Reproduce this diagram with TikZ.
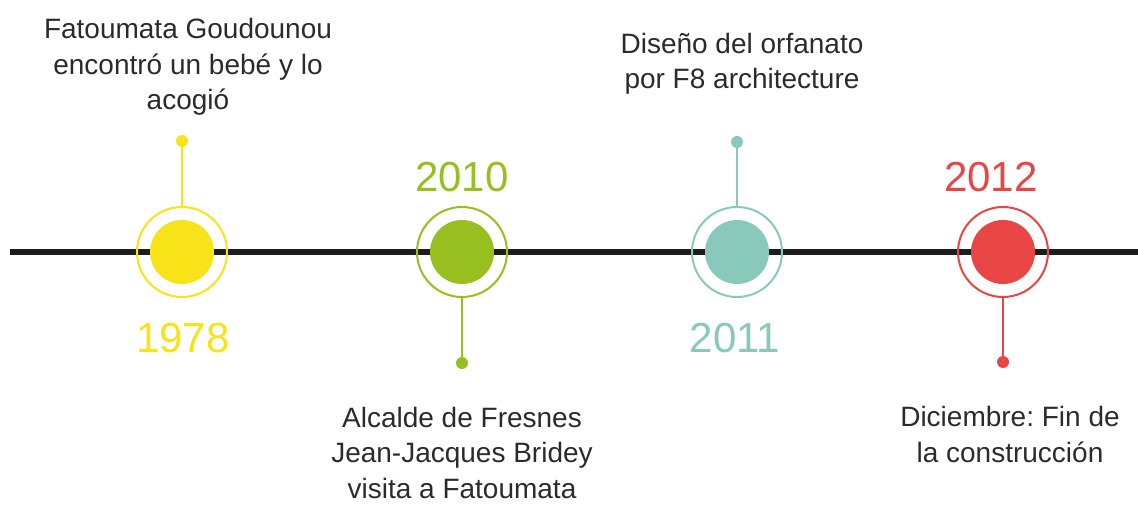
\documentclass[tikz,border=0pt]{standalone}
\usepackage{fontspec}
\setmainfont{Liberation Sans}
\frenchspacing
\definecolor{cyel}{HTML}{F7E317}
\definecolor{cgrn}{HTML}{97BF1F}
\definecolor{ctea}{HTML}{88C9BC}
\definecolor{cred}{HTML}{E84545}
\definecolor{caxis}{HTML}{1C1C1C}
\definecolor{ctxt}{HTML}{2B2B2B}
\tikzset{
  ring/.style={circle, draw=#1, line width=2pt, minimum size=90pt, inner sep=0pt},
  core/.style={circle, fill=#1, minimum size=64pt, inner sep=0pt},
  pin/.style={circle, fill=#1, minimum size=12pt, inner sep=0pt},
  stem/.style={draw=#1, line width=1.8pt},
  year/.style={text=#1, font=\fontsize{42}{42}\selectfont, anchor=base, inner sep=0pt},
  label/.style={text=ctxt, font=\fontsize{28}{35.5}\selectfont\frenchspacing, align=center, anchor=base, inner sep=0pt},
}
\begin{document}
\begin{tikzpicture}[x=1pt, y=-1pt]
\useasboundingbox (0,0) rectangle (1138,505);
% axis
\coordinate (axL) at (10,252);
\coordinate (axR) at (1138,252);
\draw[caxis, line width=6pt] (axL) -- (axR);
% event 1
\node[ring=cyel] (r1) at (182,252) {};
\node[core=cyel] (c1) at (182,252) {};
\node[pin=cyel] (p1) at (182,141) {};
\draw[stem=cyel] (r1.north) -- (p1.center);
\node[year=cyel] (y1) at (183,352) {1978};
\node[label] (t1) at (188,110) {Fatoumata Goudounou\\encontró un bebé y lo\\acogió};
% event 2
\node[ring=cgrn] (r2) at (462,252) {};
\node[core=cgrn] (c2) at (462,252) {};
\node[pin=cgrn] (p2) at (462,363) {};
\draw[stem=cgrn] (r2.south) -- (p2.center);
\node[year=cgrn] (y2) at (462,192) {2010};
\node[label] (t2) at (462,498) {Alcalde de Fresnes\\Jean-Jacques Bridey\\visita a Fatoumata};
% event 3
\node[ring=ctea] (r3) at (737,252) {};
\node[core=ctea] (c3) at (737,252) {};
\node[pin=ctea] (p3) at (737,142) {};
\draw[stem=ctea] (r3.north) -- (p3.center);
\node[year=ctea] (y3) at (735,352) {2011};
\node[label] (t3) at (742,89) {Diseño del orfanato\\por F8 architecture};
% event 4
\node[ring=cred] (r4) at (1003,252) {};
\node[core=cred] (c4) at (1003,252) {};
\node[pin=cred] (p4) at (1003,362) {};
\draw[stem=cred] (r4.south) -- (p4.center);
\node[year=cred] (y4) at (991,192) {2012};
\node[label] (t4) at (1010,462) {Diciembre: Fin de\\la construcción};
\end{tikzpicture}
\end{document}
